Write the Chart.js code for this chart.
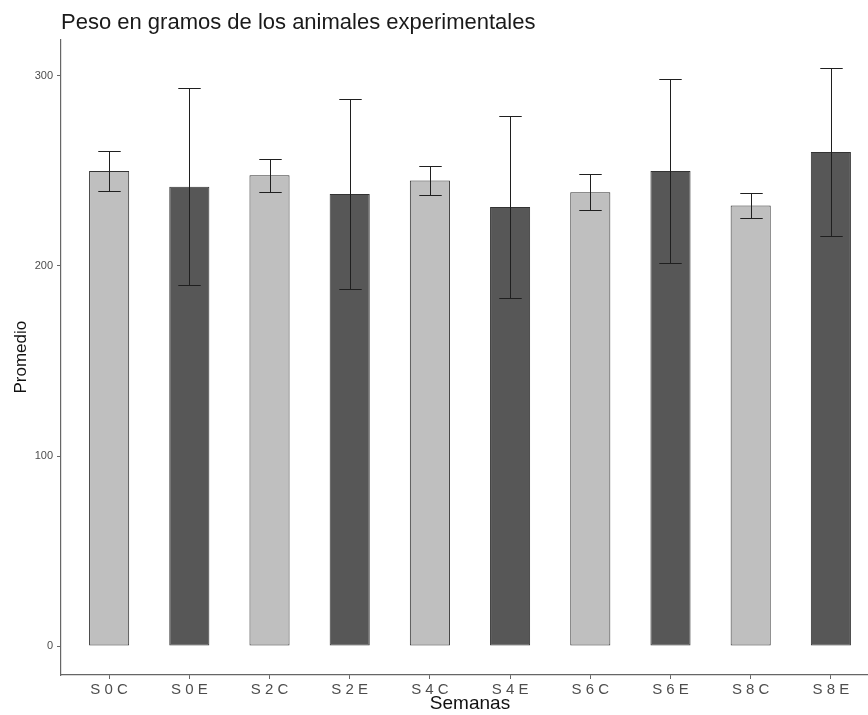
<!DOCTYPE html>
<html lang="es">
<head>
<meta charset="utf-8">
<title>Peso en gramos de los animales experimentales</title>
<script src="https://cdn.jsdelivr.net/npm/chart.js@4/dist/chart.umd.min.js"></script>
<style>
  html, body { margin: 0; padding: 0; background: #ffffff; overflow: hidden; }
  #wrap { width: 880px; height: 715px; }
</style>
</head>
<body>
<div id="wrap"><canvas id="grafico" width="880" height="715"></canvas></div>
<script>
// Semana y grupo (C = control, E = experimental)
const categorias = ['S 0 C', 'S 0 E', 'S 2 C', 'S 2 E', 'S 4 C', 'S 4 E', 'S 6 C', 'S 6 E', 'S 8 C', 'S 8 E'];
const grupos = ['C', 'E', 'C', 'E', 'C', 'E', 'C', 'E', 'C', 'E'];
// Peso promedio (g) y desviación estándar
const promedio = [250.0, 241.7, 247.7, 237.8, 244.9, 231.0, 238.8, 249.9, 231.8, 260.0];
const desviacion = [10.5, 51.7, 8.6, 50.1, 7.8, 48.0, 9.6, 48.5, 6.8, 44.0];
// Marcas del eje Y
const marcasY = [0, 100, 200, 300];

const FUENTE = '"Liberation Sans", Arial, Helvetica, sans-serif';
const colorGrupo = { C: '#bfbfbf', E: '#575757' };

// Límites de los ejes con el margen habitual (5 % en Y, 0.6 unidades en X)
const maxY = Math.max(...promedio.map((m, i) => m + desviacion[i]));
const minEje = -0.05 * maxY;
const maxEje = maxY * 1.05;

// Barras de error: media ± desviación estándar
const barrasError = {
  id: 'barrasError',
  afterDatasetsDraw(chart) {
    const { ctx, scales: { x, y } } = chart;
    const media = (x.getPixelForValue(1.14) - x.getPixelForValue(1));
    ctx.save();
    ctx.strokeStyle = '#1f1f1f';
    ctx.lineWidth = 1;
    promedio.forEach((m, i) => {
      const px = Math.round(x.getPixelForValue(i + 1)) + 0.5;
      const yA = Math.round(y.getPixelForValue(m + desviacion[i])) + 0.5;
      const yB = Math.round(y.getPixelForValue(m - desviacion[i])) + 0.5;
      ctx.beginPath();
      ctx.moveTo(px, yA); ctx.lineTo(px, yB);
      ctx.moveTo(px - media, yA); ctx.lineTo(px + media, yA);
      ctx.moveTo(px - media, yB); ctx.lineTo(px + media, yB);
      ctx.stroke();
    });
    ctx.restore();
  }
};

new Chart(document.getElementById('grafico'), {
  type: 'bar',
  data: {
    datasets: [{
      label: 'Promedio',
      data: promedio.map((v, i) => ({ x: i + 1, y: v })),
      backgroundColor: grupos.map(g => colorGrupo[g]),
      borderColor: '#333333',
      borderWidth: 1,
      borderSkipped: false,
      categoryPercentage: 1,
      barPercentage: 0.5
    }]
  },
  options: {
    responsive: false,
    animation: false,
    devicePixelRatio: 1,
    layout: { padding: { left: 0, right: 1, top: 0, bottom: 0 } },
    plugins: {
      legend: { display: false },
      tooltip: { enabled: false },
      title: {
        display: true,
        text: 'Peso en gramos de los animales experimentales',
        align: 'start',
        fullSize: false,
        color: '#1a1a1a',
        font: { family: FUENTE, size: 22, weight: 'normal' },
        padding: { top: 10, bottom: 3 }
      }
    },
    scales: {
      x: {
        type: 'linear',
        min: 0.4,
        max: categorias.length + 0.6,
        offset: false,
        afterBuildTicks: s => { s.ticks = categorias.map((_, i) => ({ value: i + 1 })); },
        afterFit: s => { s.height = 40; },
        ticks: {
          autoSkip: false,
          maxRotation: 0,
          padding: 2,
          color: '#4d4d4d',
          font: { family: FUENTE, size: 15 },
          callback: v => categorias[v - 1] ?? ''
        },
        grid: { display: true, offset: false, drawOnChartArea: false, drawTicks: true, tickLength: 4, color: '#666666' },
        border: { display: true, color: '#666666', width: 1.2 },
        title: {
          display: true,
          text: 'Semanas',
          color: '#111111',
          font: { family: FUENTE, size: 19 },
          padding: { top: 0, bottom: 0 }
        }
      },
      y: {
        min: minEje,
        max: maxEje,
        afterBuildTicks: s => { s.ticks = marcasY.map(v => ({ value: v })); },
        afterFit: s => { s.width = 61; },
        ticks: {
          padding: 4,
          color: '#4d4d4d',
          font: { family: FUENTE, size: 11 }
        },
        grid: { display: true, drawOnChartArea: false, drawTicks: true, tickLength: 4, color: '#666666' },
        border: { display: true, color: '#666666', width: 1.2 },
        title: {
          display: true,
          text: 'Promedio',
          color: '#111111',
          font: { family: FUENTE, size: 17 },
          padding: { top: 11, bottom: 0 }
        }
      }
    }
  },
  plugins: [barrasError]
});
</script>
</body>
</html>
